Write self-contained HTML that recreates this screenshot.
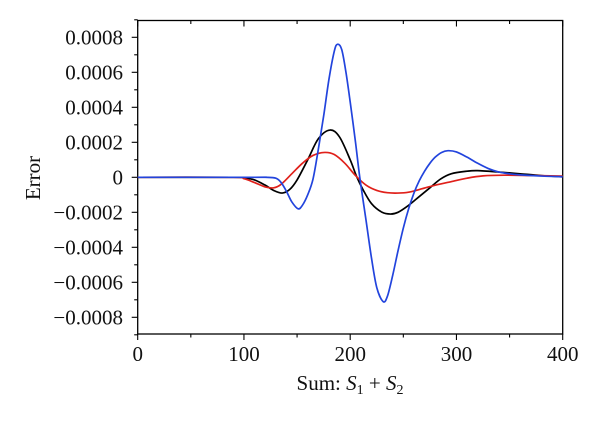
<!DOCTYPE html>
<html><head><meta charset="utf-8"><style>
body{margin:0;background:#fff}
svg{display:block}
text{font-family:"Liberation Serif",serif;fill:#111}
</style></head><body>
<svg id="chart" width="600" height="432" viewBox="0 0 600 432"></svg>
<script>
const xTicks=[0,100,200,300,400];
const yTicks=[-0.0008,-0.0006,-0.0004,-0.0002,0,0.0002,0.0004,0.0006,0.0008];
const yTickLabels=["\u22120.0008","\u22120.0006","\u22120.0004","\u22120.0002","0","0.0002","0.0004","0.0006","0.0008"];
const blueX=[0,110,120,130,135,140,145,151,155,160,165,170,175,180,185,188,192,196,200,205,209,215,220,225,231,235,240,245,250,255,260,265,270,275,280,286,292,300,310,320,330,340,350,360,380,400];
const blueY=[0,0,0,-0.05,-0.3,-0.8,-1.4,-1.8,-1.6,-1.0,-0.1,1.6,3.5,5.6,7.2,7.6,7.3,6.0,4.3,2.0,0,-2.5,-4.6,-6.3,-7.1,-6.8,-5.6,-4.2,-2.9,-1.8,-0.9,-0.2,0.35,0.8,1.15,1.42,1.52,1.45,1.15,0.8,0.5,0.3,0.2,0.14,0.07,0.03];
const blackX=[0,90,100,110,120,128,136,143,150,160,170,181,190,200,206,212,220,230,238,245,255,265,275,285,295,310,320,340,360,380,400];
const blackY=[0,0,-0.03,-0.15,-0.45,-0.75,-0.9,-0.7,-0.15,1.0,2.2,2.7,2.3,1.0,0.05,-0.7,-1.5,-2.0,-2.1,-2.0,-1.6,-1.1,-0.6,-0.1,0.2,0.35,0.38,0.3,0.2,0.1,0.03];
const redX=[0,90,100,110,120,128,135,145,155,165,176,185,195,205,215,225,235,245,255,265,280,295,310,325,345,370,400];
const redY=[0,0,-0.08,-0.3,-0.55,-0.6,-0.4,0.2,0.8,1.25,1.42,1.3,0.8,0.1,-0.45,-0.75,-0.88,-0.9,-0.85,-0.7,-0.45,-0.25,-0.05,0.08,0.12,0.1,0.07];
const SCALE=1e-4;

const svg=document.getElementById('chart');
const NS='http://www.w3.org/2000/svg';
const L=137.7,R=562.7,T=20.5,B=334;
const xs=v=>L+(v-0)/400*(R-L);
const ys=v=>177.3-v/0.0008*(177.3-37.3);
function mk(tag,attrs,parent){const e=document.createElementNS(NS,tag);for(const k in attrs)e.setAttribute(k,attrs[k]);(parent||svg).appendChild(e);return e;}

const frame=mk('rect',{x:L,y:T,width:R-L,height:B-T,fill:'none',stroke:'#000','stroke-width':1.3});



const axes=mk('g',{stroke:'#000','stroke-width':1.1});


for(let v=0;v<=400;v+=50){
  const major=v%100===0, len=major?6:3.5;
  mk('line',{x1:xs(v),x2:xs(v),y1:B,y2:B+len},axes);
  mk('line',{x1:xs(v),x2:xs(v),y1:T,y2:T+len},axes);
}
for(let i=-9;i<=9;i++){
  const v=i*1e-4, major=i%2===0, len=major?6:3.5;
  mk('line',{x1:L-len,x2:L,y1:ys(v),y2:ys(v)},axes);
}
xTicks.forEach(v=>{
  const t=mk('text',{x:xs(v),y:361,'text-anchor':'middle','font-size':21});
  t.textContent=String(v);
  
  
});
yTicks.forEach((v,i)=>{
  const t=mk('text',{x:123,y:ys(v)+7,'text-anchor':'end','font-size':21});
  t.textContent=yTickLabels[i];
  
  
});
const yt=mk('text',{x:0,y:0,'text-anchor':'middle','font-size':21,transform:'translate(40,178) rotate(-90)'});
yt.textContent='Error';


const xt=mk('text',{x:350,y:390,'text-anchor':'middle','font-size':21});
xt.innerHTML='Sum: <tspan font-style="italic">S</tspan><tspan font-size="14" dy="4">1</tspan><tspan dy="-4"> + </tspan><tspan font-style="italic">S</tspan><tspan font-size="14" dy="4">2</tspan>';



function path(X,Y){
  const p=X.map((x,i)=>[xs(x),ys(Y[i]*SCALE)]);
  let d='M'+p[0][0]+','+p[0][1];
  for(let i=0;i<p.length-1;i++){
    const p0=p[Math.max(0,i-1)],p1=p[i],p2=p[i+1],p3=p[Math.min(p.length-1,i+2)];
    const c1=[p1[0]+(p2[0]-p0[0])/6,p1[1]+(p2[1]-p0[1])/6];
    const c2=[p2[0]-(p3[0]-p1[0])/6,p2[1]-(p3[1]-p1[1])/6];
    d+=' C'+c1+' '+c2+' '+p2;
  }
  return d;
}
const series=[[blackX,blackY,'#000','series-black'],[redX,redY,'#e0201a','series-red'],[blueX,blueY,'#2244dd','series-blue']];
series.forEach(s=>{
  const e=mk('path',{d:path(s[0],s[1]),fill:'none',stroke:s[2],'stroke-width':1.7});
  
  
});
</script>
</body></html>
